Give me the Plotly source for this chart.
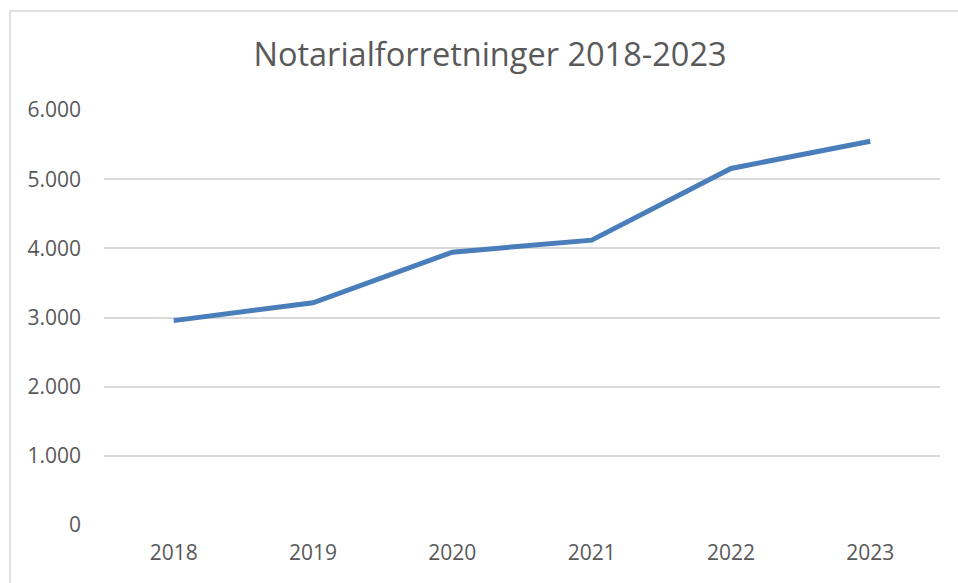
import plotly.graph_objects as go

years = ["2018", "2019", "2020", "2021", "2022", "2023"]
values = [2955, 3213, 3945, 4118, 5155, 5549]
y_ticks = [0, 1000, 2000, 3000, 4000, 5000, 6000]
title_text = "Notarialforretninger 2018-2023"

W, H = 958, 583
L, R, T, B = 104, 18, 110, 58

fig = go.Figure()
fig.add_trace(go.Scatter(
    x=years, y=values, mode="lines",
    line=dict(color="#4a7ebb", width=5),
    hoverinfo="x+y", showlegend=False,
))

font_family = "Open Sans, Noto Sans, sans-serif"
pw = W - L - R
ph = H - T - B

fig.update_layout(
    width=W, height=H,
    margin=dict(l=L, r=R, t=T, b=B, pad=0, autoexpand=False),
    paper_bgcolor="white", plot_bgcolor="white",
    separators=",.",
    font=dict(family=font_family, color="#595959", size=20),
    title=dict(
        text=title_text,
        x=490 / W, xref="container", xanchor="center",
        y=1 - 55 / H, yref="container", yanchor="middle",
        font=dict(size=32.5, color="#595959", family=font_family),
    ),
    xaxis=dict(
        type="category", range=[-0.5, 5.5], automargin=False,
        showgrid=False, showline=False, zeroline=False,
        ticks="", tickfont=dict(size=21, color="#595959"),
        ticklabelstandoff=13,
    ),
    yaxis=dict(
        range=[0, 6000], tickvals=y_ticks, tickformat=",d", automargin=False,
        showgrid=True, gridcolor="#d9d9d9", gridwidth=1.5,
        zeroline=False, showline=False, ticks="",
        tickfont=dict(size=21, color="#595959"),
        ticklabelstandoff=22,
    ),
    shapes=[dict(
        type="rect", xref="paper", yref="paper",
        x0=(10 - L) / pw, x1=(W + 20 - L) / pw,
        y0=(H - B - (H + 20)) / ph, y1=(H - B - 11) / ph,
        line=dict(color="#d9d9d9", width=1.5), fillcolor="rgba(0,0,0,0)",
        layer="below",
    )],
)

fig.write_html(
    "out.html",
    config={"displayModeBar": False},
    post_script="document.body.style.margin='0';document.body.style.overflow='hidden';",
)
